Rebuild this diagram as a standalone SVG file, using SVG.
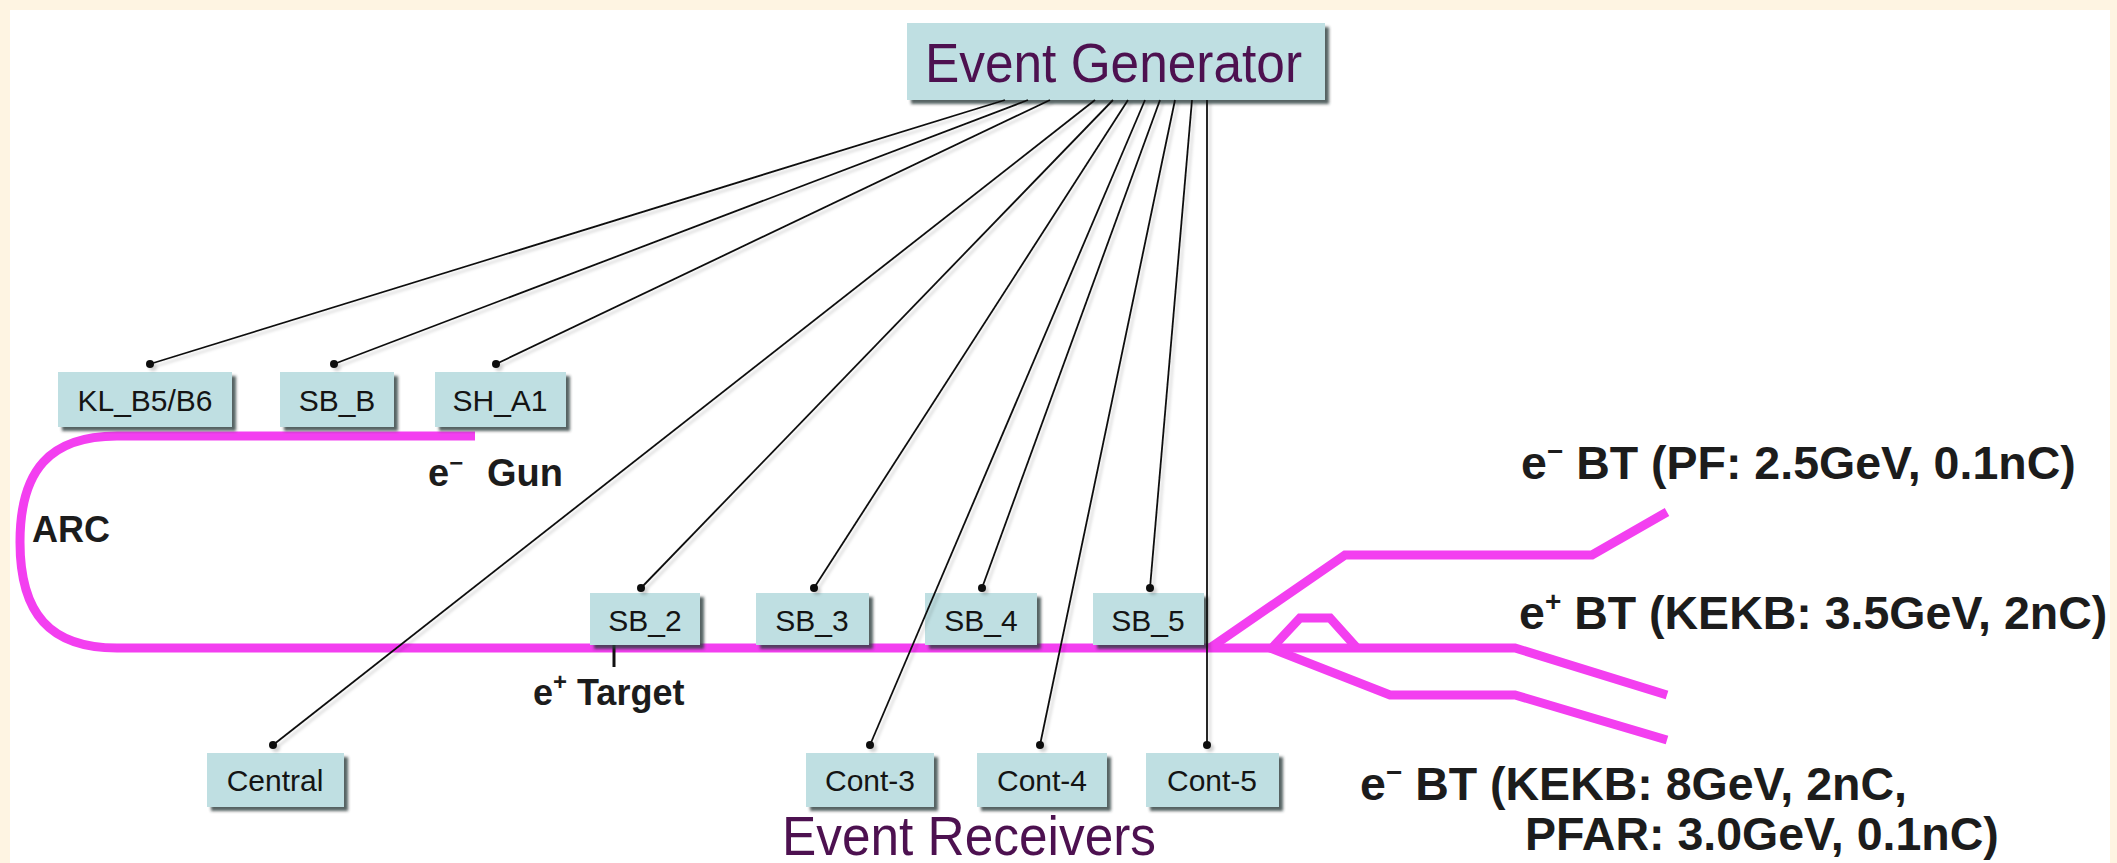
<svg xmlns="http://www.w3.org/2000/svg" width="2117" height="863" viewBox="0 0 2117 863">
  <defs>
    <filter id="shadow" x="-10%" y="-20%" width="130%" height="150%">
      <feDropShadow dx="4" dy="4" stdDeviation="1.8" flood-color="#2a3a3a" flood-opacity="0.8"/>
    </filter>
    <filter id="lineShadow" x="-5%" y="-5%" width="110%" height="110%">
      <feDropShadow dx="3" dy="3" stdDeviation="1.5" flood-color="#000" flood-opacity="0.18"/>
    </filter>
    <marker id="dot" viewBox="0 0 10 10" refX="5" refY="5" markerWidth="8" markerHeight="8" markerUnits="userSpaceOnUse">
      <circle cx="5" cy="5" r="5" fill="#111"/>
    </marker>
  </defs>
  <style>
    .box { fill: #bfdfe2; filter: url(#shadow); }
    .lbl { font-family: "Liberation Sans", Arial, sans-serif; font-size: 30px; fill: #141414; text-anchor: middle; }
    .title { font-family: "Liberation Sans", Arial, sans-serif; font-size: 56px; fill: #4d1150; }
    .note { font-family: "Liberation Sans", Arial, sans-serif; font-weight: bold; fill: #1c1c1c; }
    .beam { fill: none; stroke: #f33ff0; stroke-width: 9; stroke-linejoin: miter; stroke-linecap: butt; }
    .wire { stroke: #111; stroke-width: 1.8; fill: none; marker-end: url(#dot); }
  </style>

  <!-- page background and frame -->
  <rect x="0" y="0" width="2117" height="863" fill="#fef4e2"/>
  <rect x="10" y="10" width="2100" height="853" fill="#ffffff"/>

  <!-- beam lines -->
  <g id="beamline">
    <path class="beam" d="M475,436 L117,436 C50,436 20,470 20,542 C20,614 50,648 117,648 L1515,648 L1667,695"/>
    <path class="beam" d="M1210,648 L1345,555 L1592,555 L1667,512"/>
    <path class="beam" d="M1272,648 L1300,618 L1330,618 L1357,648"/>
    <path class="beam" d="M1270,648 L1390,695 L1515,695 L1667,740"/>
    <line x1="614" y1="633" x2="614" y2="667" stroke="#111" stroke-width="3"/>
  </g>

  <!-- event generator -->
  <g id="event-generator">
    <rect class="box" x="907" y="23" width="418" height="77"/>
    <text class="title" x="925" y="82" textLength="377" lengthAdjust="spacingAndGlyphs">Event Generator</text>
  </g>

  <!-- receivers along the upper straight -->
  <g id="kl-b5-b6">
    <rect class="box" x="58" y="372" width="174" height="55"/>
    <text class="lbl" x="145" y="411">KL_B5/B6</text>
  </g>
  <g id="sb-b">
    <rect class="box" x="280" y="372" width="114" height="55"/>
    <text class="lbl" x="337" y="411">SB_B</text>
  </g>
  <g id="sh-a1">
    <rect class="box" x="435" y="372" width="131" height="55"/>
    <text class="lbl" x="500" y="411">SH_A1</text>
  </g>

  <!-- receivers along the main linac -->
  <g id="sb-2">
    <rect class="box" x="590" y="593" width="110" height="52"/>
    <text class="lbl" x="645" y="631">SB_2</text>
  </g>
  <g id="sb-3">
    <rect class="box" x="756" y="593" width="113" height="52"/>
    <text class="lbl" x="812" y="631">SB_3</text>
  </g>
  <g id="sb-4">
    <rect class="box" x="925" y="593" width="112" height="52"/>
    <text class="lbl" x="981" y="631">SB_4</text>
  </g>
  <g id="sb-5">
    <rect class="box" x="1093" y="593" width="111" height="52"/>
    <text class="lbl" x="1148" y="631">SB_5</text>
  </g>

  <!-- receivers in the control rooms -->
  <g id="central">
    <rect class="box" x="207" y="753" width="137" height="54"/>
    <text class="lbl" x="275" y="791">Central</text>
  </g>
  <g id="cont-3">
    <rect class="box" x="806" y="753" width="128" height="54"/>
    <text class="lbl" x="870" y="791">Cont-3</text>
  </g>
  <g id="cont-4">
    <rect class="box" x="977" y="753" width="130" height="54"/>
    <text class="lbl" x="1042" y="791">Cont-4</text>
  </g>
  <g id="cont-5">
    <rect class="box" x="1146" y="753" width="133" height="54"/>
    <text class="lbl" x="1212" y="791">Cont-5</text>
  </g>

  <!-- timing fibres from the generator -->
  <g id="connectors" filter="url(#lineShadow)">
    <line class="wire" x1="1005" y1="100" x2="150" y2="364"/>
    <line class="wire" x1="1028" y1="100" x2="334" y2="364"/>
    <line class="wire" x1="1050" y1="100" x2="496" y2="364"/>
    <line class="wire" x1="1095" y1="100" x2="273" y2="745"/>
    <line class="wire" x1="1113" y1="100" x2="641" y2="588"/>
    <line class="wire" x1="1128" y1="100" x2="814" y2="588"/>
    <line class="wire" x1="1145" y1="100" x2="870" y2="745"/>
    <line class="wire" x1="1160" y1="100" x2="982" y2="588"/>
    <line class="wire" x1="1175" y1="100" x2="1040" y2="745"/>
    <line class="wire" x1="1192" y1="100" x2="1150" y2="588"/>
    <line class="wire" x1="1207" y1="100" x2="1207" y2="745"/>
  </g>

  <!-- annotations -->
  <g id="labels">
    <text class="note" x="428" y="486" font-size="38">e<tspan dy="-15" font-size="24">−</tspan><tspan x="487" dy="15">Gun</tspan></text>
    <text class="note" x="32" y="542" font-size="36">ARC</text>
    <text class="note" x="533" y="705" font-size="36">e<tspan dy="-15" font-size="24">+</tspan><tspan dy="15"> Target</tspan></text>
    <text class="note" x="1521" y="479" font-size="46.5">e<tspan dy="-18" font-size="28">−</tspan><tspan dy="18"> BT (PF: 2.5GeV, 0.1nC)</tspan></text>
    <text class="note" x="1519" y="629" font-size="46.5">e<tspan dy="-18" font-size="28">+</tspan><tspan dy="18"> BT (KEKB: 3.5GeV, 2nC)</tspan></text>
    <text class="note" x="1360" y="800" font-size="46.5">e<tspan dy="-18" font-size="28">−</tspan><tspan dy="18"> BT (KEKB: 8GeV, 2nC,</tspan></text>
    <text class="note" x="1525" y="850" font-size="46.5">PFAR: 3.0GeV, 0.1nC)</text>
  </g>

  <text class="title" x="782" y="855" textLength="374" lengthAdjust="spacingAndGlyphs">Event Receivers</text>
</svg>
